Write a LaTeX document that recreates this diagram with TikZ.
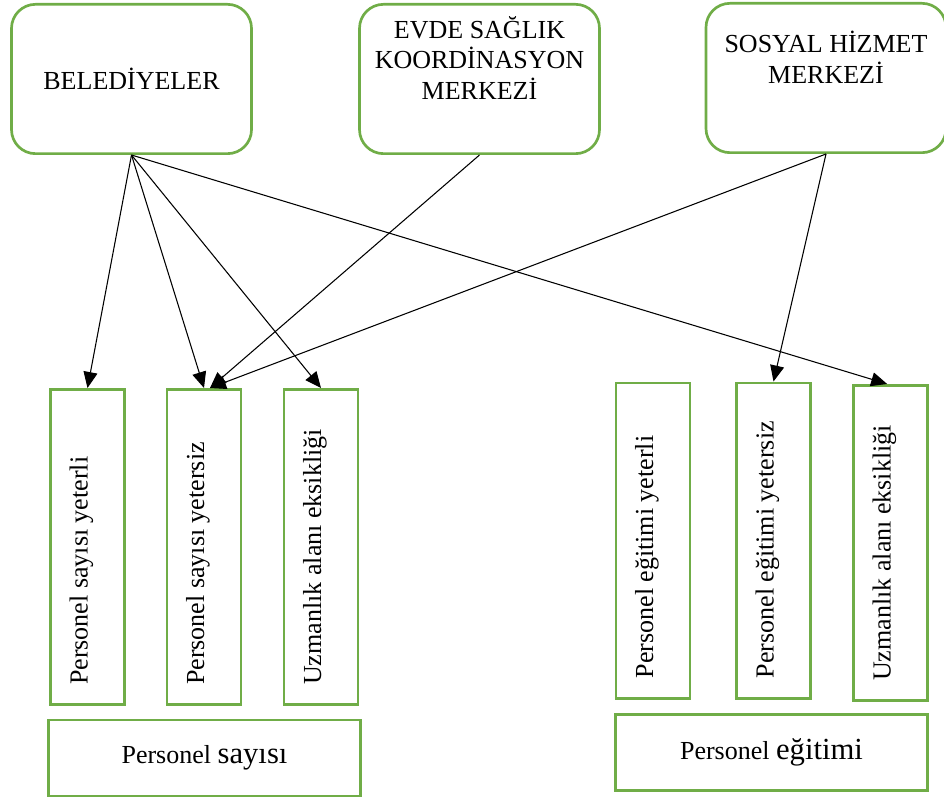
\documentclass[tikz,border=0pt]{standalone}
\usepackage{fontspec}
\setmainfont{Liberation Serif}
\usetikzlibrary{arrows.meta}
\definecolor{kutuyesil}{RGB}{112,173,71}

\begin{document}
\begin{tikzpicture}[x=0.75pt,y=-0.75pt,line width=0.8pt,
    every node/.style={font=\fontsize{19.5}{23}\selectfont},
    inst/.style={draw=kutuyesil,line width=2pt,rounded corners=18pt,minimum width=180pt,minimum height=112pt},
    col/.style={draw=kutuyesil,line width=2pt,minimum width=55.5pt,minimum height=236.5pt},
    groupbox/.style={draw=kutuyesil,line width=2pt,minimum width=234pt,minimum height=57pt},
    coltext/.style={rotate=90,anchor=base west,inner sep=0pt},
    >={Triangle[length=12pt,width=10.5pt]}]
            \useasboundingbox (0,0) rectangle (944,798);
            % kurumlar
            \node (BEL) [inst] at (131.5,79) {BELEDİYELER};
            \node (EVDE) [inst] at (479.5,79) {};
            \node (EVDEt) [align=center] at (479.5,58) {EVDE SAĞLIK\\KOORDİNASYON\\MERKEZİ};
            \node (SHM) [inst] at (826,78) {};
            \node (SHMt) [align=center] at (826,57) {SOSYAL HİZMET\\MERKEZİ};
            % personel sayisi
            \node (S1) [col] at (87.5,547) {};
            \node (S2) [col] at (204,547) {};
            \node (S3) [col] at (321,547) {};
            \node (S1t) [coltext] at ([yshift=15.5pt]S1.south) {Personel sayısı yeterli};
            \node (S2t) [coltext] at ([yshift=15.5pt]S2.south) {Personel sayısı yetersiz};
            \node (S3t) [coltext] at ([yshift=15.5pt]S3.south) {Uzmanlık alanı eksikliği};
            \node (PS) [groupbox] at (204.5,758) {Personel {\fontsize{23}{27}\selectfont sayısı}};
            % personel egitimi
            \node (E1) [col] at (653,540.5) {};
            \node (E2) [col] at (773.5,540.5) {};
            \node (E3) [col] at (890.5,543) {};
            \node (E1t) [coltext] at ([yshift=15.5pt]E1.south) {Personel eğitimi yeterli};
            \node (E2t) [coltext] at ([yshift=15.5pt]E2.south) {Personel eğitimi yetersiz};
            \node (E3t) [coltext] at ([yshift=15.5pt]E3.south) {Uzmanlık alanı eksikliği};
            \node (PE) [groupbox] at (771.5,752.5) {Personel {\fontsize{23}{27}\selectfont eğitimi}};
            % oklar
            \path [->] (BEL.south) edge (S1.north);
            \path [->] (BEL.south) edge (S2.north);
            \path [->] (BEL.south) edge (S3.north);
            \path [->] (BEL.south) edge ([xshift=-2.5pt]E3.north);
            \path [->] (EVDE.south) edge ([xshift=4.5pt]S2.north);
            \path [->] (SHM.south) edge ([xshift=4.5pt]S2.north);
            \path [->] (SHM.south) edge (E2.north);
        \end{tikzpicture}
\end{document}
